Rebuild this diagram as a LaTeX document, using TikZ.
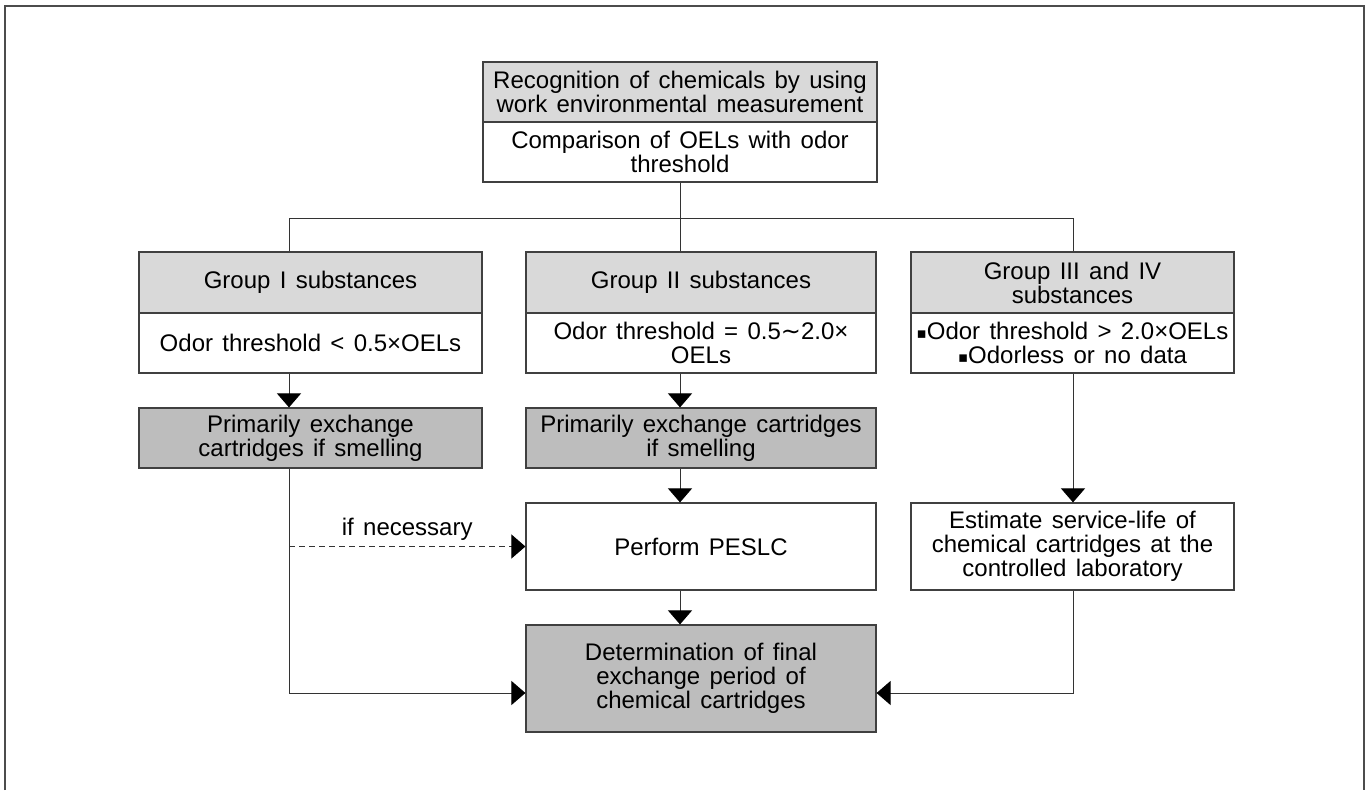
\documentclass[tikz,border=0pt]{standalone}
\usepackage{fontspec}
\setmainfont[WordSpace=1.4]{Liberation Sans}
\newfontfamily\symfont{DejaVu Sans}
\newcommand\sqbullet{{\symfont\fontsize{15}{15}\selectfont\raisebox{1pt}{▪}}}
\usetikzlibrary{arrows.meta}

\begin{document}
\begin{tikzpicture}[x=1pt,y=-1pt]
\tikzset{box/.style={draw=black!75,line width=1.2pt,rectangle,align=center,
    minimum height=60pt,inner sep=2pt,font=\fontsize{24}{24}\selectfont},
  head/.style={box,fill=black!15},
  dark/.style={box,fill=black!26},
  link/.style={draw=black!80,line width=1pt},
  arr/.style={link,-{Triangle[width=24pt,length=14pt,fill=black,color=black]}}}
\useasboundingbox (0,0) rectangle (1370,790);
\draw[black!70,line width=2pt] (5,790) -- (5,6) -- (1364,6) -- (1364,790);
% top
\node[head,minimum width=394pt] (rec) at (680,92) {Recognition of chemicals by using\\work environmental measurement};
\node[box,minimum width=394pt] (cmp) at (680,152) {Comparison of OELs with odor\\threshold};
% groups
\node[head,minimum width=343pt,minimum height=61pt] (g1) at (310.5,282.5) {Group I substances};
\node[box,minimum width=343pt] (g1b) at (310.5,343) {Odor threshold < 0.5×OELs};
\node[head,minimum width=350pt,minimum height=61pt] (g2) at (701,282.5) {Group II substances};
\node[box,minimum width=350pt] (g2b) at (701,343) {Odor threshold = 0.5{\symfont ∼}2.0×\\OELs};
\node[head,minimum width=323pt,minimum height=61pt] (g3) at (1072.5,282.5) {Group III and IV\\substances};
\node[box,minimum width=323pt] (g3b) at (1072.5,343) {\sqbullet Odor threshold > 2.0×OELs\\\sqbullet Odorless or no data};
% actions
\node[dark,minimum width=343pt] (p1) at (310.5,438) {Primarily exchange\\cartridges if smelling};
\node[dark,minimum width=350pt] (p2) at (701,438) {Primarily exchange cartridges\\if smelling};
\node[box,minimum width=350pt,minimum height=87pt] (pes) at (701,546.5) {Perform PESLC};
\node[box,minimum width=323pt,minimum height=87pt] (est) at (1072.5,546.5) {Estimate service-life of\\chemical cartridges at the\\controlled laboratory};
\node[dark,minimum width=350pt,minimum height=107pt] (det) at (701,678.5) {Determination of final\\exchange period of\\chemical cartridges};
% connectors
\coordinate (bus) at (680,218);
\coordinate (b1) at (289,218);
\coordinate (b3) at (1073,218);
\coordinate (j1) at (289,693);
\coordinate (j3) at (1073,693);
\draw[link] (cmp) -- (bus);
\draw[link] (b1) -- (b3);
\draw[link] (b1) -- (b1 |- g1.north);
\draw[link] (bus) -- (bus |- g2.north);
\draw[link] (b3) -- (b3 |- g3.north);
\draw[arr] (b1 |- g1b.south) -- (b1 |- p1.north);
\draw[arr] (bus |- g2b.south) -- (bus |- p2.north);
\draw[arr] (bus |- p2.south) -- (bus |- pes.north);
\draw[arr] (bus |- pes.south) -- (bus |- det.north);
\draw[arr] (b3 |- g3b.south) -- (b3 |- est.north);
\draw[arr] (b1 |- p1.south) -- (j1) -- (j1 -| det.west);
\draw[arr] (b3 |- est.south) -- (j3) -- (j3 -| det.east);
\draw[arr,dash pattern=on 6pt off 4pt] (b1 |- pes.west) -- (pes.west)
  node[pos=.5,above=2pt,font=\fontsize{24}{24}\selectfont] (nec) {if necessary};
\end{tikzpicture}
\end{document}
